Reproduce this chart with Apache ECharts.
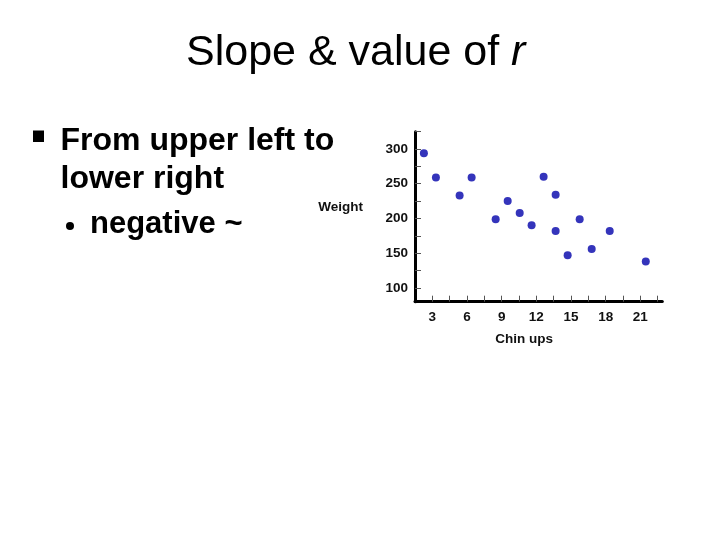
<!DOCTYPE html>
<html><head><meta charset="utf-8">
<script src="https://cdn.jsdelivr.net/npm/echarts@6/dist/echarts.min.js"></script>
<style>html,body{margin:0;padding:0;background:#fff}#c{width:720px;height:540px}</style>
</head><body><div id="c"></div>
<script>
const chinUps = [2.27, 3.31, 5.36, 6.40, 8.48, 9.52, 10.56, 11.59, 12.63, 13.67, 13.67, 14.71, 15.75, 16.79, 18.35, 21.47];
const weights = [294, 259, 233, 259, 199, 225, 208, 190, 260, 234, 182, 147, 199, 156, 182, 138];
const xTickValues = [3, 4.5, 6, 7.5, 9, 10.5, 12, 13.5, 15, 16.5, 18, 19.5, 21, 22.5];
const xLabelValues = [3, 6, 9, 12, 15, 18, 21];
const yTickValues = [100, 125, 150, 175, 200, 225, 250, 275, 300, 325];
const yLabelValues = [100, 150, 200, 250, 300];
const titleMain = 'Slope & value of ';
const titleItalic = 'r';
const bulletLines = ['From upper left to', 'lower right'];
const subBullet = 'negative ~';
const xName = 'Chin ups';
const yName = 'Weight';

const points = chinUps.map((x, i) => [x, weights[i]]);
const FONT = 'Liberation Sans, Arial, sans-serif';

const chart = echarts.init(document.getElementById('c'), null, {renderer: 'canvas'});
chart.setOption({
  backgroundColor: '#ffffff',
  animation: false,
  title: {
    text: '{n|' + titleMain + '}{i|' + titleItalic + '}',
    left: 186,
    top: 32,
    padding: 0,
    textStyle: {
      fontWeight: 'normal',
      rich: {
        n: {fontFamily: FONT, fontSize: 43, fontWeight: 'normal', color: '#000'},
        i: {fontFamily: FONT, fontSize: 43, fontWeight: 'normal', fontStyle: 'italic', color: '#000'}
      }
    }
  },
  grid: {left: 415, top: 131.7, width: 247.3, height: 170, containLabel: false},
  xAxis: {
    type: 'value',
    min: 1.5,
    max: 22.9,
    name: xName,
    nameLocation: 'middle',
    nameGap: 31,
    nameTextStyle: {fontFamily: FONT, fontSize: 13.5, fontWeight: 'bold', color: '#111', padding: [0, 29, 0, 0], verticalAlign: 'top'},
    axisLine: {show: true, onZero: false, lineStyle: {color: '#000', width: 3}},
    axisTick: {show: true, inside: true, length: 6, customValues: xTickValues, lineStyle: {color: '#555', width: 1}},
    axisLabel: {customValues: xLabelValues, margin: 9, fontFamily: FONT, fontSize: 13.5, fontWeight: 'bold', color: '#111'},
    splitLine: {show: false}
  },
  yAxis: {
    type: 'value',
    min: 80,
    max: 325,
    name: yName,
    nameLocation: 'middle',
    nameRotate: 0,
    nameGap: 52,
    nameTextStyle: {fontFamily: FONT, fontSize: 13.5, fontWeight: 'bold', color: '#111', verticalAlign: 'bottom', padding: [0, 0, 2, 0]},
    axisLine: {show: true, onZero: false, lineStyle: {color: '#000', width: 3}},
    axisTick: {show: true, inside: true, length: 6, customValues: yTickValues, lineStyle: {color: '#555', width: 1}},
    axisLabel: {customValues: yLabelValues, margin: 7, fontFamily: FONT, fontSize: 13.5, fontWeight: 'bold', color: '#111'},
    splitLine: {show: false}
  },
  series: [{
    type: 'scatter',
    data: points,
    symbol: 'circle',
    symbolSize: 8,
    itemStyle: {color: '#3434bb', opacity: 1}
  }],
  graphic: [
    {type: 'rect', shape: {x: 33, y: 130.5, width: 11, height: 11.5}, style: {fill: '#000'}},
    {type: 'text', x: 60.5, y: 141.2, style: {text: bulletLines[0], font: 'bold 32px ' + FONT, fill: '#000', verticalAlign: 'middle', align: 'left'}},
    {type: 'text', x: 60.5, y: 179.5, style: {text: bulletLines[1], font: 'bold 32px ' + FONT, fill: '#000', verticalAlign: 'middle', align: 'left'}},
    {type: 'circle', shape: {cx: 70, cy: 226, r: 4}, style: {fill: '#000'}},
    {type: 'text', x: 90, y: 224.7, style: {text: subBullet, font: 'bold 31px ' + FONT, fill: '#000', verticalAlign: 'middle', align: 'left'}}
  ]
});
</script></body></html>
